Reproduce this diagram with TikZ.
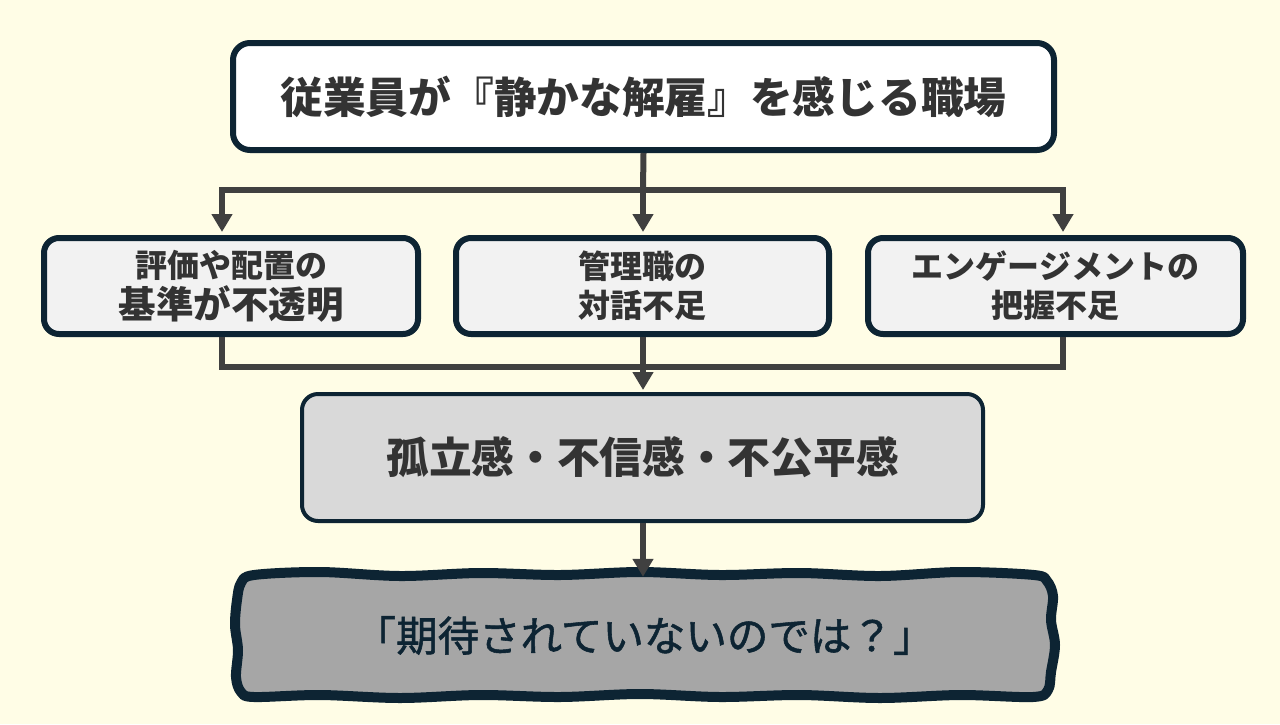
\documentclass[tikz,border=0pt]{standalone}
\usepackage{fontspec}
\setmainfont{Noto Sans CJK JP}
\newfontfamily\medjp{Noto Sans CJK JP}[FakeBold=1.3]
\usetikzlibrary{arrows.meta}
\definecolor{bgc}{HTML}{FFFDE6}
\definecolor{navy}{HTML}{0D2433}
\definecolor{txt}{HTML}{333333}
\definecolor{linec}{HTML}{404040}
\definecolor{fillA}{HTML}{F2F2F2}
\definecolor{fillB}{HTML}{D9D9D9}
\definecolor{fillC}{HTML}{A6A6A6}
\tikzset{
  x=1pt, y=-1pt,
  topbox/.style={draw=navy, line width=6pt, fill=white, rounded corners=17pt,
    minimum width=821pt, minimum height=107pt, text=txt, inner sep=0pt,
    font=\fontsize{42.7}{48}\selectfont\bfseries},
  midbox/.style={draw=navy, line width=6pt, fill=fillA, rounded corners=15pt,
    minimum height=96pt, text=txt, inner sep=0pt, align=center,
    font=\fontsize{32}{39}\selectfont\bfseries},
  feelbox/.style={draw=navy, line width=4pt, fill=fillB, rounded corners=16pt,
    minimum width=681pt, minimum height=127pt, text=txt, inner sep=0pt,
    font=\fontsize{42.7}{48}\selectfont\bfseries},
  wavytext/.style={text=navy, inner sep=0pt,
    minimum width=817pt, minimum height=123pt,
    font=\fontsize{41.5}{46}\selectfont\medjp},
  wavyline/.style={draw=navy, line width=10pt, fill=fillC, line join=round},
  conn/.style={draw=linec, line width=6pt},
  arr/.style={conn, -{Triangle[length=18pt,width=20pt]}},
}
\begin{document}
\begin{tikzpicture}
\useasboundingbox (0,0) rectangle (1280,724);
\fill[bgc] (0,0) rectangle (1280,724);

\coordinate (j0) at (643,190);
\coordinate (jl) at (222,190);
\coordinate (jr) at (1063,190);
\coordinate (kl) at (222,367);
\coordinate (k0) at (643,367);
\coordinate (kr) at (1063,367);

\node[topbox] (top) at (643.5,96.5) {従業員が『静かな解雇』を感じる職場};
\node[midbox, minimum width=374pt] (b1) at (231,286) {評価や配置の\\[2pt]{\fontsize{37.5}{40}\selectfont 基準が不透明}};
\node[midbox, minimum width=373pt] (b2) at (642.5,286) {管理職の\\対話不足};
\node[midbox, minimum width=375pt] (b3) at (1055.5,286) {エンゲージメントの\\把握不足};
\node[feelbox] (feel) at (642.5,457.5) {\raisebox{2pt}{孤立感・不信感・不公平感}};

\draw[conn] (top.south) -- (j0);
\draw[conn, line cap=rect] (jl) -- (jr);
\draw[arr] (jl) -- ([yshift=3pt]jl |- b1.north);
\draw[arr] (j0) -- ([yshift=3pt]j0 |- b2.north);
\draw[arr] (jr) -- ([yshift=3pt]jr |- b3.north);

\draw[conn] (kl |- b1.south) -- (kl);
\draw[conn] (kr |- b3.south) -- (kr);
\draw[conn, line cap=rect] (kl) -- (kr);
\draw[arr] (k0 |- b2.south) -- ([yshift=2pt]k0 |- feel.north);

% hand-drawn (wavy) bottom box
\draw[wavyline] plot[smooth cycle, tension=0.55] coordinates {
  (254,575) (320,572) (400,576) (480,573) (560,575) (640,572) (720,575)
  (800,573) (880,576) (960,572) (1034,575)
  (1047,581) (1053,596)
  (1051,620) (1055,645) (1051,672)
  (1048,690) (1033,697)
  (960,695) (880,698) (800,695) (720,697) (640,694) (560,697)
  (480,695) (400,698) (320,695) (254,697)
  (241,692) (236,677)
  (238,650) (235,625) (237,600)
  (241,583)};
\node[wavytext] (bottom) at (644.5,635.5) {「期待されていないのでは？」};
\coordinate (bt) at (643,574);
\draw[arr] (feel.south -| bt) -- ([yshift=-3pt]bottom.north -| bt);
\end{tikzpicture}
\end{document}
